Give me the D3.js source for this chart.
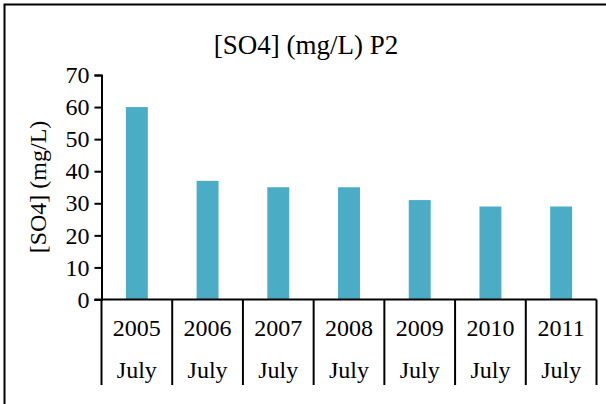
<!DOCTYPE html>
<html>
<head>
<meta charset="utf-8">
<script src="https://cdn.jsdelivr.net/npm/d3@7"></script>
<style>
  body { margin: 0; background: #fff; }
  text { font-family: "Liberation Serif", "Times New Roman", serif; fill: #000; }
</style>
</head>
<body>
<svg id="chart" width="606" height="404"></svg>
<script>
// data
var years = ["2005", "2006", "2007", "2008", "2009", "2010", "2011"];
var months = ["July", "July", "July", "July", "July", "July", "July"];
var so4 = [60, 37, 35, 35, 31, 29, 29];
var yTicks = [0, 10, 20, 30, 40, 50, 60, 70];

function drawChart() {
    var svg = d3.select('#chart');
    var left = 101.5, right = 596.5, top = 75, bottom = 299.5;
    var serif = '"Liberation Serif", "Times New Roman", serif';

    // outer frame (runs off the right and bottom)
    svg.append('rect')
    .attr('x', 4.5).attr('y', 4.5)
    .attr('width', 700).attr('height', 500)
    .attr('fill', 'none').attr('stroke', '#000').attr('stroke-width', 2);

    var x = d3.scaleBand()
    .domain(years)
    .range([left, right])
    .paddingInner(0).paddingOuter(0);

    var y = d3.scaleLinear()
    .domain([0, 70])
    .range([bottom, top]);

    // bars
    var bw = x.bandwidth() * 0.31;
    svg.selectAll('.bar')
    .data(so4)
    .enter().append('rect')
    .attr('class', 'bar')
    .attr('x', (d, i) => x(years[i]) + x.bandwidth() / 2 - bw / 2)
    .attr('y', d => y(d))
    .attr('width', bw)
    .attr('height', d => y(0) - y(d))
    .attr('fill', '#4bacc6');

    // y axis
    var yAxis = d3.axisLeft(y).tickValues(yTicks).tickSize(7).tickPadding(5);
    var gy = svg.append('g')
    .attr('transform', 'translate(' + left + ',0)')
    .call(yAxis)
    .attr('font-family', serif)
    .attr('font-size', 24);
    gy.select('.domain').attr('stroke-width', 2);
    gy.selectAll('.tick line').attr('stroke-width', 2);

    // x axis: baseline plus dividers down through two label rows
    var edges = years.map(d => x(d)).concat([right]);
    svg.append('line')
    .attr('x1', left - 7).attr('x2', right)
    .attr('y1', bottom).attr('y2', bottom)
    .attr('stroke', '#000').attr('stroke-width', 2);
    svg.selectAll('.divider')
    .data(edges)
    .enter().append('line')
    .attr('class', 'divider')
    .attr('x1', d => d).attr('x2', d => d)
    .attr('y1', bottom).attr('y2', 385)
    .attr('stroke', '#000').attr('stroke-width', 2);

    svg.selectAll('.year')
    .data(years)
    .enter().append('text')
    .attr('class', 'year')
    .attr('x', d => x(d) + x.bandwidth() / 2)
    .attr('y', 336)
    .attr('text-anchor', 'middle')
    .style('font-size', '24px')
    .text(d => d);

    svg.selectAll('.month')
    .data(months)
    .enter().append('text')
    .attr('class', 'month')
    .attr('x', (d, i) => x(years[i]) + x.bandwidth() / 2)
    .attr('y', 378)
    .attr('text-anchor', 'middle')
    .style('font-size', '24px')
    .text(d => d);

    // title
    svg.append('text')
    .attr('x', 306)
    .attr('y', 54)
    .attr('text-anchor', 'middle')
    .style('font-size', '27px')
    .text('[SO4] (mg/L) P2');

    // y label
    svg.append('text')
    .attr('transform', 'translate(46,187) rotate(-90)')
    .attr('text-anchor', 'middle')
    .style('font-size', '24px')
    .text('[SO4] (mg/L)');
}

document.addEventListener("DOMContentLoaded", drawChart);
</script>
</body>
</html>
